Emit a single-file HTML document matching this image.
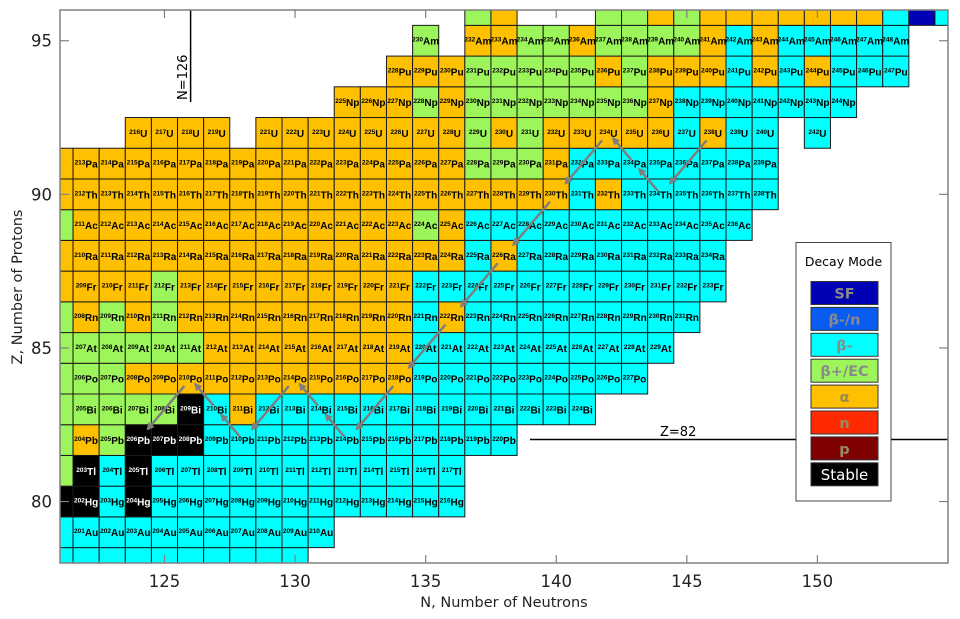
<!DOCTYPE html>
<html><head><meta charset="utf-8"><style>
html,body{margin:0;padding:0;background:#fff;width:960px;height:619px;overflow:hidden}
svg{display:block;font-family:"DejaVu Sans","Liberation Sans",sans-serif}
</style></head><body>
<svg id="s" width="960" height="619" viewBox="0 0 960 619" xmlns="http://www.w3.org/2000/svg">
<defs>
<clipPath id="pc"><rect x="60" y="10" width="888" height="553"/></clipPath>
<marker id="ah" markerWidth="8" markerHeight="8" refX="6" refY="4" orient="auto" markerUnits="userSpaceOnUse"><path d="M0,0 L8,4 L0,8 Z" fill="#7f7f7f"/></marker>
</defs>
<g id="cells" clip-path="url(#pc)"></g>
<g id="arrows" clip-path="url(#pc)"></g>
<g id="ann"></g>
</svg>
<script>
const W=26.118,H=30.72;
const X=n=>60+(n-121)*W, Y=z=>10+(96-z)*H;
const col={o:"#FFC000",c:"#00FFFF",g:"#9CF55A",k:"#000000",b:"#0000B4"};
const sym={78:"Pt",79:"Au",80:"Hg",81:"Tl",82:"Pb",83:"Bi",84:"Po",85:"At",86:"Rn",87:"Fr",88:"Ra",89:"Ac",90:"Th",91:"Pa",92:"U",93:"Np",94:"Pu",95:"Am",96:"Cm"};
const r=(c,k)=>c.repeat(k);
const rows={
96:[137,"go___ggog"+r("o",7)+"cbc"],
95:[135,"g_ooggoggggoco"+r("c",5)],
94:[134,"ooo"+"ggggg"+"o"+"g"+"ooo"+"c"+"o"+"c"+"o"+"ccc"],
93:[132,"ooogo"+r("g",7)+"o"+r("c",7)],
92:[124,"oooo_"+r("o",8)+"gog"+"ooooo"+"cocc_c"],
91:[121,r("o",16)+"ggg"+"o"+r("c",8)],
90:[121,r("o",20)+"c"+"o"+r("c",6)],
89:[121,"g"+r("o",13)+"g"+"o"+r("c",11)],
88:[121,r("o",16)+"c"+"o"+r("c",8)],
87:[121,"oooo"+"g"+r("o",9)+r("c",12)],
86:[121,"gogog"+r("o",9)+"c"+"o"+r("c",9)],
85:[121,r("g",6)+r("o",8)+r("c",10)],
84:[121,"ggg"+r("o",11)+r("c",9)],
83:[121,"ggggg"+"k"+"c"+"o"+r("c",13)],
82:[121,"gogkkk"+r("c",12)],
81:[121,"gkck"+r("c",12)],
80:[121,"kkck"+r("c",12)],
79:[121,r("c",11)],
78:[121,r("c",10)]};
const cg=document.getElementById("cells");
let html="";
for(const z in rows){
 const [n0,s]=rows[z];
 for(let i=0;i<s.length;i++){
  const ch=s[i]; if(ch==="_")continue;
  const n=n0+i, x=X(n)-W/2, y=Y(+z)-H/2;
  html+=`<rect x="${x.toFixed(2)}" y="${y.toFixed(2)}" width="${W.toFixed(2)}" height="${H.toFixed(2)}" fill="${col[ch]}" stroke="#1a1a1a" stroke-width="1"/>`;
  if(n>121&&n<155&&z>78&&z<96){
   const tc=ch==="k"?"#fff":"#000";
   html+=`<text x="${X(n).toFixed(2)}" y="${(Y(+z)+4).toFixed(2)}" text-anchor="middle" font-family="Liberation Sans, sans-serif" font-weight="bold" font-size="10" fill="${tc}"><tspan font-size="6.5" dy="-3">${n+ +z}</tspan><tspan dy="3">${sym[z]}</tspan></text>`;
  }
 }
}
cg.innerHTML=html;
const chain=[[146,92],[144,90],[143,91],[142,92],[140,90],[138,88],[136,86],[134,84],[132,82],[131,83],[130,84],[128,82],[127,83],[126,84],[124,82]];
let ah="";
for(let i=0;i<chain.length-1;i++){
 const [n1,z1]=chain[i],[n2,z2]=chain[i+1];
 const x1=X(n1),y1=Y(z1),x2=X(n2),y2=Y(z2);
 const a=0.12,b=0.82;
 ah+=`<line x1="${x1+(x2-x1)*a}" y1="${y1+(y2-y1)*a}" x2="${x1+(x2-x1)*b}" y2="${y1+(y2-y1)*b}" stroke="#7f7f7f" stroke-width="2.5" marker-end="url(#ah)"/>`;
}
document.getElementById("arrows").innerHTML=ah;
let an="";
an+=`<line x1="190.6" y1="10" x2="190.6" y2="102" stroke="#000" stroke-width="1.5"/>`;
an+=`<text transform="translate(187,100) rotate(-90)" font-size="13" fill="#000">N=126</text>`;
an+=`<line x1="530" y1="439.5" x2="948" y2="439.5" stroke="#000" stroke-width="1.5"/>`;
an+=`<text x="660" y="436" font-size="13" fill="#000">Z=82</text>`;
an+=`<rect x="60" y="10" width="888" height="553" fill="none" stroke="#808080" stroke-width="1.5"/>`;
for(let n=125;n<=150;n+=5){const x=X(n);
 an+=`<line x1="${x}" y1="563" x2="${x}" y2="555" stroke="#808080" stroke-width="1.2"/><line x1="${x}" y1="10" x2="${x}" y2="18" stroke="#808080" stroke-width="1.2"/>`;
 an+=`<text x="${x}" y="587" text-anchor="middle" font-size="16.5" fill="#222">${n}</text>`;}
for(let z=80;z<=95;z+=5){const y=Y(z);
 an+=`<line x1="60" y1="${y}" x2="69" y2="${y}" stroke="#808080" stroke-width="1.2"/><line x1="948" y1="${y}" x2="939" y2="${y}" stroke="#808080" stroke-width="1.2"/>`;
 an+=`<text x="52" y="${y+6}" text-anchor="end" font-size="16.5" fill="#222">${z}</text>`;}
an+=`<text x="504" y="607" text-anchor="middle" font-size="14.5" fill="#222">N, Number of Neutrons</text>`;
an+=`<text transform="translate(22,287) rotate(-90)" text-anchor="middle" font-size="14.5" fill="#222">Z, Number of Protons</text>`;
an+=`<rect x="796" y="242.5" width="95" height="258.5" fill="#fff" stroke="#444" stroke-width="1"/>`;
an+=`<text x="843.5" y="266" text-anchor="middle" font-size="12.5" fill="#000">Decay Mode</text>`;
const leg=[["#0000B4","SF","#8a8a8a"],["#0A5CF0","β-/n","#8a8a8a"],["#00FFFF","β-","#8a8a8a"],["#9CF55A","β+/EC","#8a8a8a"],["#FFC000","α","#9a8a50"],["#FF2A00","n","#9a8a60"],["#7E0000","p","#9a8a60"],["#000000","Stable","#fff"]];
leg.forEach((l,i)=>{const y=281.5+i*25.9;
 an+=`<rect x="811" y="${y}" width="67" height="23" fill="${l[0]}" stroke="#333" stroke-width="1"/>`;
 an+=`<text x="844.5" y="${y+17}" text-anchor="middle" font-size="${i==7?15:14.5}" font-weight="${i==7?'normal':'bold'}" fill="${l[2]}">${l[1]}</text>`;});
document.getElementById("ann").innerHTML=an;
</script>
</body></html>
